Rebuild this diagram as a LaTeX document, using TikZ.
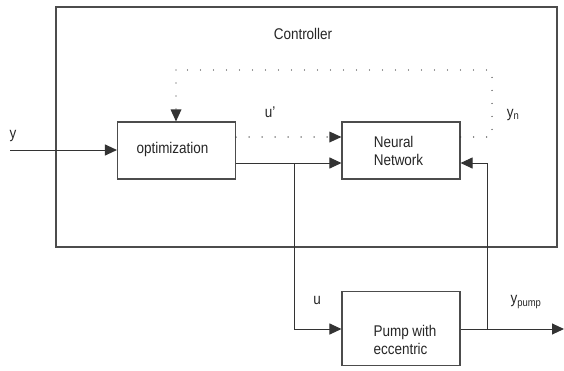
\documentclass[tikz,border=0pt]{standalone}
\usepackage{fontspec}
\setmainfont[FakeStretch=0.87]{Liberation Sans}
\usetikzlibrary{arrows.meta}
\begin{document}
\begin{tikzpicture}[x=1pt,y=-1pt,
  line width=1pt,
  every node/.style={font=\fontsize{15.5}{17.7}\selectfont, text=black!85},
  blockbox/.style={draw=black!70, line width=1.1pt, minimum width=118pt, inner sep=0pt},
  tip/.style={-{Triangle[length=12pt,width=11pt]}},
  conn/.style={draw=black!80, tip},
  dotline/.style={draw=black!80, line width=1.4pt, line cap=round, dash pattern=on 0pt off 13pt},
  dotconn/.style={dotline, -{Triangle[length=12pt,width=11pt,line width=0pt]}},
  lbl/.style={inner sep=0pt},
  txt/.style={inner sep=0pt, align=left}]
\useasboundingbox (0,0) rectangle (564,370);

% outer controller frame
\node[draw=black!70, line width=1.1pt, minimum width=501pt, minimum height=240pt, inner sep=0pt] (ctrl) at (306.5,127) {};
\node[lbl] (ctrllbl) at (303,34) {Controller};

% blocks
\node[blockbox, minimum height=57pt] (opt) at (176.5,150.5) {};
\node[txt] (opttxt) at (172.5,149) {optimization};
\node[blockbox, minimum height=57pt] (nn) at (401,150.5) {};
\node[txt] (nntxt) at (398.5,151) {Neural\\Network};
\node[blockbox, minimum height=74pt] (pump) at (401,328.5) {};
\node[txt] (pumptxt) at (405,340) {Pump with\\eccentric};

% helper points
\coordinate (yin) at (10,150);
\coordinate (tl) at (176,70);
\coordinate (tr) at (492,70);
\coordinate (rr) at (492,137);
\coordinate (split) at (294,163);
\coordinate (splitdn) at (294,329);
\coordinate (fb) at (487,329);
\coordinate (fbup) at (487,163);
\coordinate (yout) at (564,329);

% input y
\draw[conn] (yin) -- (opt.west |- yin);
\node[lbl] (ylbl) at (13,136) {y};

% dotted loop: network output back to optimization
\draw[dotline] (nn.east |- rr) -- (rr) -- (tr) -- (tl);
\draw[dotconn] (tl) -- (opt.north -| tl);
\node[lbl] (ynlbl) at (513,115) {y\textsubscript{n}};

% dotted u'
\draw[dotconn] (opt.east |- 0,137) -- (nn.west |- 0,137);
\node[lbl] (uplbl) at (270,112) {u'};

% control signal u
\draw[conn] (opt.east |- split) -- (nn.west |- split);
\draw[conn] (split) -- (splitdn) -- (pump.west |- splitdn);
\node[lbl] (ulbl) at (317,300) {u};

% pump output
\draw[conn] (pump.east |- fb) -- (yout);
\draw[conn] (fb) -- (fbup) -- (nn.east |- fbup);
\node[lbl] (ypumplbl) at (526,302) {y\textsubscript{pump}};
\end{tikzpicture}
\end{document}
